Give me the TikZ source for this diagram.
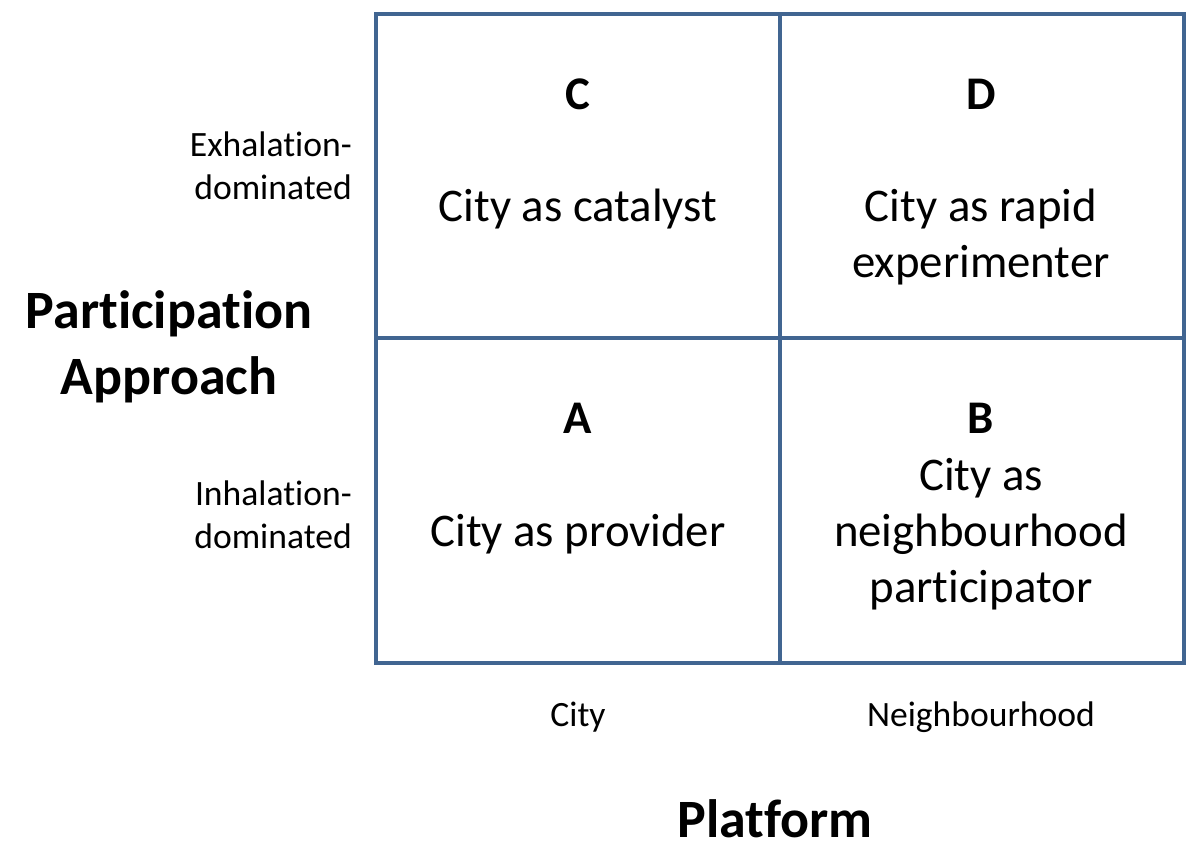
\documentclass[tikz,border=0pt]{standalone}
\usepackage{fontspec}
\setmainfont[Ligatures={CommonOff,ContextualOff}]{Carlito}
\definecolor{gridblue}{RGB}{65,101,145}
\newcommand{\nl}{\kern0pt\relax}
\tikzset{
  gridline/.style={draw=gridblue, line width=3.5pt},
  big/.style={font=\fontsize{46.8}{56}\selectfont, align=center, inner sep=0pt},
  bigbold/.style={font=\fontsize{46.8}{56}\selectfont\bfseries, inner sep=0pt},
  axis/.style={font=\fontsize{54}{66}\selectfont\bfseries, align=center, inner sep=0pt},
  small/.style={font=\fontsize{35.6}{43}\selectfont, inner sep=0pt},
}
\begin{document}
\begin{tikzpicture}[x=1pt,y=1pt]
\useasboundingbox (0,0) rectangle (1200,-861);
% grid
\coordinate (tl) at (376,-14);
\coordinate (br) at (1184,-663);
\coordinate (mt) at (780,-14);
\coordinate (mb) at (780,-663);
\coordinate (ml) at (376,-338);
\coordinate (mr) at (1184,-338);
\draw[gridline] (tl) rectangle (br);
\draw[gridline] (mt) -- (mb);
\draw[gridline] (ml) -- (mr);
% cell letters
\node[bigbold] (lc) at (578,-94) {C};
\node[bigbold] (ld) at (981,-94) {D};
\node[bigbold] (la) at (578,-418) {A};
\node[bigbold] (lb) at (981,-418) {B};
% cell texts
\node[big] (tc) at (578,-209) {City as catalyst};
\node[big] (td) at (981,-237) {City as rapid\\experimenter};
\node[big] (ta) at (578,-534) {City as provider};
\node[big] (tb) at (981,-534) {City as\\neighbourhood\\participator};
% row labels
\node[small, align=right, anchor=east] (ex) at (352,-166) {Exhalat\nl ion-\\dominated};
\node[small, align=right, anchor=east] (in) at (352,-515) {Inhalat\nl ion-\\dominated};
% column labels
\node[small] (cc) at (578,-717) {City};
\node[small] (cn) at (981,-717) {Neighbourhood};
% axis titles
\node[axis] (pa) at (169,-347) {Part\nl icipat\nl ion\\Approach};
\node[axis] (pf) at (775,-819) {Plat\nl form};
\end{tikzpicture}
\end{document}
